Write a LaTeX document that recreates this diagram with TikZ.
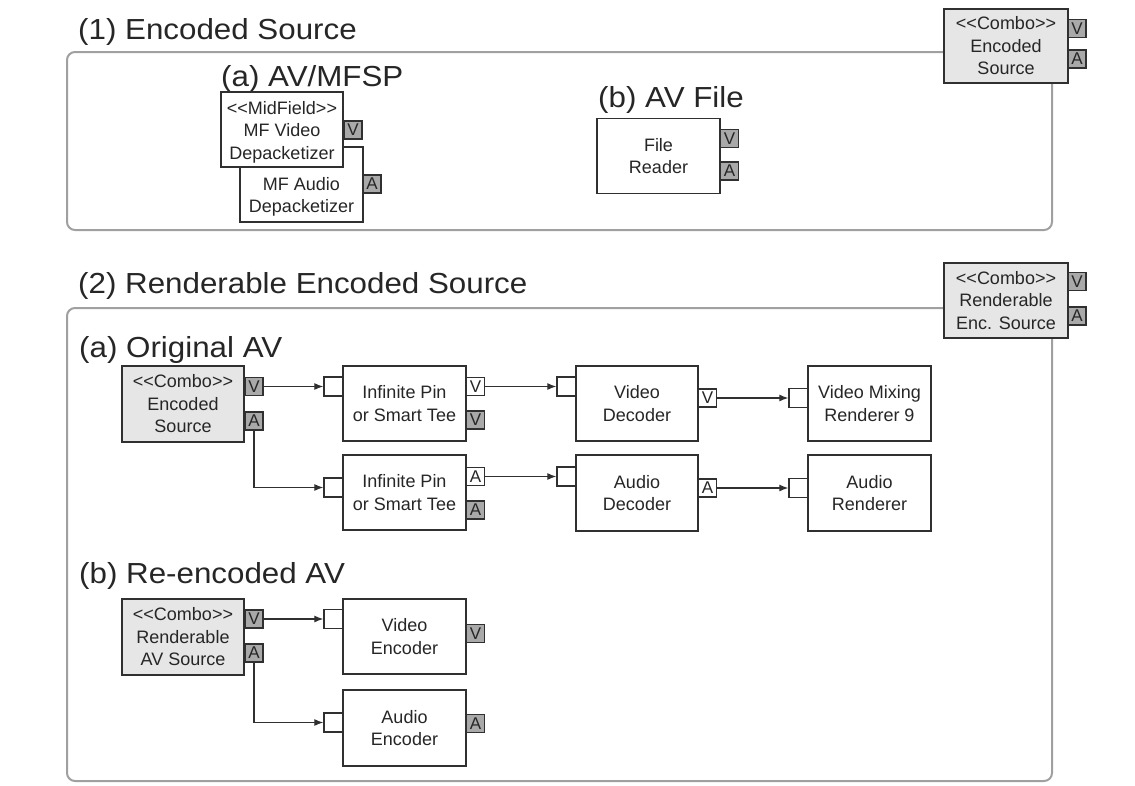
\documentclass[tikz,border=0pt]{standalone}
\usepackage{fontspec}
\setmainfont{Liberation Sans}
\newfontfamily\titlefam[FakeStretch=1.08]{Liberation Sans}
\usetikzlibrary{arrows.meta}
\definecolor{boxc}{HTML}{303030}
\definecolor{txtc}{HTML}{262626}
\definecolor{framec}{HTML}{A0A0A0}
\definecolor{combofill}{HTML}{E6E6E6}
\definecolor{pinfill}{HTML}{A9A9A9}
\newcommand{\boxfont}{\fontsize{18}{22.5}\selectfont}
\newcommand{\pinfont}{\fontsize{17}{17}\selectfont}
\newcommand{\ttlfont}{\titlefam\fontsize{29}{34}\selectfont}
\newcommand{\LL}{<{}<}
\newcommand{\RR}{>{}>}
\begin{document}
\begin{tikzpicture}[x=1pt,y=-1pt,
  box/.style={draw=boxc, line width=1.7pt, fill=white, minimum width=123, minimum height=75, inner sep=0pt, align=center, font=\boxfont, text=txtc},
  combo/.style={box, fill=combofill, line width=2.6pt},
  pin/.style={draw=boxc, line width=1.3pt, minimum width=18, minimum height=18, inner sep=0pt, font=\pinfont, fill=white, text=txtc},
  gpin/.style={pin, fill=pinfill},
  inpin/.style={pin, minimum width=19, minimum height=19},
  frame/.style={draw=framec, line width=2pt, rounded corners=8pt},
  ttl/.style={anchor=base west, font=\ttlfont, inner sep=0pt, text=txtc},
  inner/.style={align=center, font=\boxfont, text=txtc, inner sep=0pt},
  conn/.style={draw=boxc, line width=1.2pt, -{Latex[length=9pt,width=7pt]}}
]
\useasboundingbox[fill=white] (0,0) rectangle (1135,785);

% frames
\draw[frame] (67,52) rectangle (1052,230);
\draw[frame] (67,308) rectangle (1052,781);

% titles
\node[ttl] (t1) at (78,39) {(1) Encoded Source};
\node[ttl] (t2) at (78,293) {(2) Renderable Encoded Source};
\node[ttl] (t1a) at (221,86) {(a) AV/MFSP};
\node[ttl] (t1b) at (598,107) {(b) AV File};
\node[ttl] (t2a) at (79,357) {(a) Original AV};
\node[ttl] (t2b) at (79,583) {(b) Re-encoded AV};

% (1)(a) MidField
\node[box, minimum width=123, minimum height=75] (mfa) at (301.5,184.5) {};
\node[inner] (mfat) at (301.5,197) {MF Audio\\Depacketizer};
\node[gpin] (mfaA) at (372,184) {A};
\node[box, minimum width=122, minimum height=75] (mfv) at (282,129.5) {};
\node[inner] (mfvt) at (282,132) {\LL MidField\RR\\MF Video\\Depacketizer};
\node[gpin] (mfvV) at (353,130) {V};

% (1)(b) File reader
\node[box] (fr) at (658.5,156) {File\\Reader};
\node[gpin] (frV) at (729.5,138.5) {V};
\node[gpin] (frA) at (729.5,171) {A};

% combo top right 1
\node[combo, minimum width=124, minimum height=74] (c1) at (1006,46) {\LL Combo\RR\\Encoded\\Source};
\node[gpin] (c1V) at (1077,28.5) {V};
\node[gpin] (c1A) at (1077,59) {A};

% combo top right 2
\node[combo, minimum width=124, minimum height=75] (c2) at (1006,300.5) {\LL Combo\RR\\Renderable\\Enc. Source};
\node[gpin] (c2V) at (1077,281.5) {V};
\node[gpin] (c2A) at (1077,316) {A};

% (2)(a) Original AV
\node[combo, minimum width=122, minimum height=76] (es) at (183,404) {\LL Combo\RR\\Encoded\\Source};
\node[gpin] (esV) at (254,386.5) {V};
\node[gpin] (esA) at (254,421) {A};

\node[box] (ip1) at (404.5,403.5) {Infinite Pin\\or Smart Tee};
\node[inpin] (ip1in) at (333.5,386.5) {};
\node[pin] (ip1V) at (475.5,386.5) {V};
\node[gpin] (ip1V2) at (475.5,420) {V};

\node[box] (ip2) at (404.5,492.5) {Infinite Pin\\or Smart Tee};
\node[inpin] (ip2in) at (333.5,487.5) {};
\node[pin] (ip2A) at (475.5,476.5) {A};
\node[gpin] (ip2A2) at (475.5,510) {A};

\node[box, minimum width=122] (vd) at (637,403.5) {Video\\Decoder};
\node[inpin] (vdin) at (566.5,386.5) {};
\node[pin] (vdV) at (707.5,398) {V};

\node[box] (vmr) at (869.5,403.5) {Video Mixing\\Renderer 9};
\node[inpin] (vmrin) at (798.5,398) {};

\node[box, minimum width=122, minimum height=76] (ad) at (637,493) {Audio\\Decoder};
\node[inpin] (adin) at (566.5,476.5) {};
\node[pin] (adA) at (707.5,488) {A};

\node[box, minimum height=76] (ar) at (869.5,493) {Audio\\Renderer};
\node[inpin] (arin) at (798.5,488) {};

% (2)(b) Re-encoded AV
\node[combo, minimum width=122, minimum height=76] (rav) at (183,637) {\LL Combo\RR\\Renderable\\AV Source};
\node[gpin] (ravV) at (254,619) {V};
\node[gpin] (ravA) at (254,653) {A};

\node[box] (ve) at (404.5,636.5) {Video\\Encoder};
\node[inpin] (vein) at (333.5,619) {};
\node[gpin] (veV) at (475.5,633.5) {V};

\node[box, minimum height=76] (ae) at (404.5,728) {Audio\\Encoder};
\node[inpin] (aein) at (333.5,722.5) {};
\node[gpin] (aeA) at (475.5,723.5) {A};

% connectors
\draw[conn] (esV.east) -- (ip1in.west);
\draw[conn] (esA.south) |- (ip2in.west);
\draw[conn] (ip1V.east) -- (vdin.west);
\draw[conn] (ip2A.east) -- (adin.west);
\draw[conn] (vdV.east) -- (vmrin.west);
\draw[conn] (adA.east) -- (arin.west);
\draw[conn] (ravV.east) -- (vein.west);
\draw[conn] (ravA.south) |- (aein.west);
\end{tikzpicture}
\end{document}
